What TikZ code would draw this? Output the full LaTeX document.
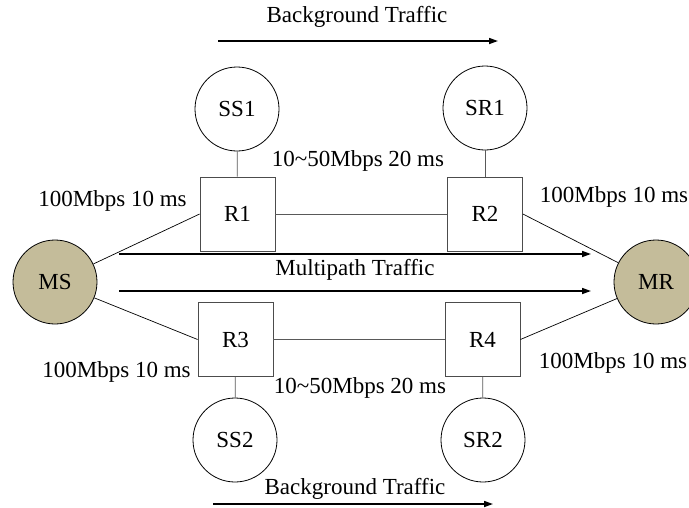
\documentclass[tikz,border=0pt]{standalone}
\usepackage{fontspec}
\setmainfont{Liberation Serif}
\usetikzlibrary{arrows.meta}
\definecolor{khaki}{RGB}{196,188,154}
\tikzset{
  lbl/.style={font=\fontsize{23}{27}\selectfont, inner sep=0pt},
  host/.style={circle, draw=black, line width=0.8pt, minimum size=84pt, inner sep=0pt, font=\fontsize{23}{27}\selectfont},
  mhost/.style={host, fill=khaki},
  router/.style={rectangle, draw=black!70, line width=0.8pt, minimum width=75pt, minimum height=74pt, inner sep=0pt, font=\fontsize{23}{27}\selectfont},
  link/.style={draw=black, line width=0.7pt},
  glink/.style={draw=black!65, line width=0.7pt},
  flow/.style={draw=black, line width=1.6pt, -{Triangle[length=9pt,width=6pt]}}
}
\begin{document}
\begin{tikzpicture}[x=1pt,y=-1pt]
\useasboundingbox (0,0) rectangle (689,507);
\clip (0,0) rectangle (689,507);
% hosts
\node[mhost] (MS) at (55,282) {MS};
\node[mhost] (MR) at (656,282) {MR};
\node[host] (SS1) at (237,109) {SS1};
\node[host] (SR1) at (485,108) {SR1};
\node[host] (SS2) at (235,440) {SS2};
\node[host] (SR2) at (483,440) {SR2};
% routers
\node[router] (R1) at (237.5,214) {R1};
\node[router] (R2) at (485,214) {R2};
\node[router] (R3) at (235.5,339.5) {R3};
\node[router] (R4) at (482.5,339.5) {R4};
% links
\draw[link] (MS) -- (R1.west);
\draw[link] (MS) -- (R3.west);
\draw[link] (R2.east) -- (MR);
\draw[link] (R4.east) -- (MR);
\draw[glink] (R1) -- (R2);
\draw[glink] (R3) -- (R4);
\draw[glink] (SS1) -- (R1);
\draw[glink] (SR1) -- (R2);
\draw[glink] (SS2) -- (R3);
\draw[glink] (SR2) -- (R4);
% labels
\node[lbl] (l1) at (112.5,201) {100Mbps 10 ms};
\node[lbl] (l2) at (116.5,372) {100Mbps 10 ms};
\node[lbl] (l3) at (614,197) {100Mbps 10 ms};
\node[lbl] (l4) at (613,363) {100Mbps 10 ms};
\node[lbl] (l5) at (358,161) {10\textasciitilde 50Mbps 20 ms};
\node[lbl] (l6) at (360,388) {10\textasciitilde 50Mbps 20 ms};
% flows
\coordinate (t1) at (218,41);
\coordinate (t2) at (498,41);
\draw[flow] (t1) -- (t2);
\node[lbl] (bt1) at (357,17) {Background Traffic};
\coordinate (b1) at (213,504);
\coordinate (b2) at (493,504);
\draw[flow] (b1) -- (b2);
\node[lbl] (bt2) at (355,489) {Background Traffic};
\coordinate (m1) at (119,254);
\coordinate (m2) at (591,254);
\coordinate (m3) at (119,291);
\coordinate (m4) at (591,291);
\draw[flow] (m1) -- (m2);
\draw[flow] (m3) -- (m4);
\node[lbl] (mt) at (355,270) {Multipath Traffic};
\end{tikzpicture}
\end{document}
